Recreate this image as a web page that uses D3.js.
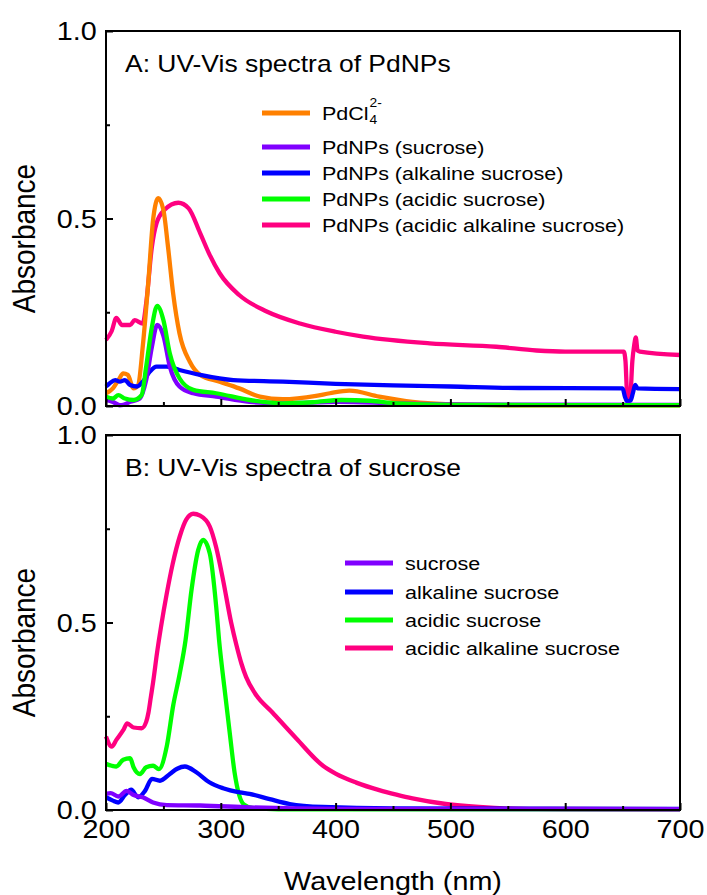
<!DOCTYPE html>
<meta charset="utf-8">
<style>
body { margin: 0; background: #fff; }
svg { display: block; font-family: "Liberation Sans", Arial, sans-serif; }
.axis text { font-family: "Liberation Sans", Arial, sans-serif; fill: #000; }
.axis line { stroke: #000; stroke-width: 2px; }
</style>
<body>
<script src="https://cdn.jsdelivr.net/npm/d3@7"></script>
<script>

// ---- panel A : PdNPs ----
const wlPdCl4 = [200,206,211,215,219,224,228,232,237,241,245.5,250,254,258.5,264,273,282,299,316,334,354,383,395,412,438,467,496,550,700];
const absPdCl4 = [0.034,0.047,0.07,0.087,0.083,0.047,0.056,0.158,0.336,0.496,0.554,0.523,0.425,0.30,0.194,0.118,0.083,0.065,0.047,0.025,0.018,0.027,0.034,0.041,0.025,0.011,0.005,0.002,0.002];

const wlPdSuc = [200,206,212,215,221,229.5,235,240,244.6,250,255.6,264,276,296,325,354,403,450,500,700];
const absPdSuc = [0.016,0.011,0.002,0.003,0.011,0.02,0.069,0.158,0.216,0.187,0.105,0.052,0.034,0.025,0.011,0.007,0.011,0.007,0.004,0.003];

const wlPdAlk = [200,203,208,212,216.5,221,227,232,238,244,253,264,282,311,354,400,450,500,560,650,652,654,657,659,661,663,700];
const absPdAlk = [0.052,0.06,0.069,0.065,0.069,0.056,0.052,0.065,0.091,0.105,0.105,0.096,0.083,0.069,0.065,0.059,0.055,0.052,0.048,0.047,0.025,0.012,0.015,0.035,0.056,0.047,0.045];

const wlPdAcid = [200,206,210.7,216.5,224,231,235,240,244.6,250,255.6,264,276,296,325,354,380,405,430,453,500,700];
const absPdAcid = [0.025,0.02,0.029,0.02,0.016,0.029,0.105,0.211,0.267,0.229,0.14,0.074,0.043,0.034,0.016,0.007,0.01,0.016,0.014,0.007,0.003,0.002];

const wlPdAcidAlk = [200,205,209,214,221,225,232,235,240,244,251,263,272,282,290,299,316,340,369,400,424,482,540,575,600,651,652.5,654,656.5,658.5,660,661.5,663,665,700];
const absPdAcidAlk = [0.176,0.2,0.235,0.216,0.216,0.229,0.22,0.274,0.425,0.487,0.523,0.542,0.527,0.461,0.405,0.354,0.296,0.252,0.22,0.198,0.185,0.167,0.158,0.148,0.145,0.145,0.12,0.03,0.02,0.12,0.16,0.183,0.148,0.145,0.136];

// ---- panel B : sucrose ----
const wlSuc = [200,204,210.7,218,224,232,241,253,282,325,400,700];
const absSuc = [0.043,0.045,0.036,0.051,0.04,0.034,0.02,0.013,0.012,0.007,0.003,0.002];

const wlAlkSuc = [200,206,210.7,216.5,222,228,234,240,247,255.6,262,268.7,279,290,302,316.5,325,342.6,360,389,450,700];
const absAlkSuc = [0.034,0.025,0.02,0.04,0.054,0.034,0.051,0.083,0.078,0.096,0.11,0.116,0.10,0.074,0.058,0.047,0.043,0.029,0.016,0.008,0.004,0.003];

const wlAcidSuc = [200,205,209,215,221,224,229.6,235,241,246,253,258.5,264,269.3,274.5,280.3,284.6,290.4,296,298.5,303,308,312,316,320,328,350,700];
const absAcidSuc = [0.123,0.118,0.116,0.134,0.138,0.114,0.096,0.114,0.118,0.109,0.171,0.278,0.36,0.453,0.587,0.693,0.72,0.684,0.542,0.453,0.33,0.2,0.1,0.04,0.015,0.005,0.002,0.002];

const wlAcidAlkSuc = [200,205,209,215,218.5,224,231,235,237,239,241,244.5,248,252.8,258,264.3,270,276,282,290.4,296,302,309,313.6,318,322,330,345,366,389,400,418,438,453,467,496,525,569,700];
const absAcidAlkSuc = [0.196,0.169,0.187,0.213,0.231,0.22,0.218,0.235,0.26,0.30,0.34,0.42,0.49,0.575,0.655,0.73,0.775,0.79,0.785,0.756,0.70,0.613,0.50,0.44,0.39,0.355,0.31,0.26,0.19,0.118,0.097,0.073,0.053,0.041,0.031,0.016,0.008,0.003,0.002];

// ticks
const xMajor = [200,300,400,500,600,700];
const xMinor = [250,350,450,550,650];
const yMajor = [0,0.5,1];
const yMinor = [0.25,0.75];

const seriesA = [
  {name:"PdCl4", wl:wlPdCl4, ab:absPdCl4, color:"#ff8000"},
  {name:"PdNPs (sucrose)", wl:wlPdSuc, ab:absPdSuc, color:"#8000ff"},
  {name:"PdNPs (alkaline sucrose)", wl:wlPdAlk, ab:absPdAlk, color:"#0000ff"},
  {name:"PdNPs (acidic sucrose)", wl:wlPdAcid, ab:absPdAcid, color:"#00ff00"},
  {name:"PdNPs (acidic alkaline sucrose)", wl:wlPdAcidAlk, ab:absPdAcidAlk, color:"#ff0080"}
];
const seriesB = [
  {name:"sucrose", wl:wlSuc, ab:absSuc, color:"#8000ff"},
  {name:"alkaline sucrose", wl:wlAlkSuc, ab:absAlkSuc, color:"#0000ff"},
  {name:"acidic sucrose", wl:wlAcidSuc, ab:absAcidSuc, color:"#00ff00"},
  {name:"acidic alkaline sucrose", wl:wlAcidAlkSuc, ab:absAcidAlkSuc, color:"#ff0080"}
];
// draw order (back to front)
const orderA = [4,0,2,1,3];
const orderB = [3,2,1,0];

var SX = 1.15;   // the figure is a bit wider than tall, stretch text the same way
var W = 707, H = 895;
var left = 106, right = 680;

var svg = d3.select("body").append("svg")
  .attr("width", W)
  .attr("height", H);

var x = d3.scaleLinear().domain([200,700]).range([left,right]);

function panel(top, bottom, series, order, title, legendX, legendYs, showX) {
  var y = d3.scaleLinear().domain([0,1]).range([bottom, top]);
  var g = svg.append("g");

  var line = d3.line()
    .x(function(d) { return x(d[0]); })
    .y(function(d) { return y(d[1]); })
    .curve(d3.curveMonotoneX);

  order.forEach(function(i) {
    var s = series[i];
    g.append("path")
      .datum(d3.zip(s.wl, s.ab))
      .attr("d", line)
      .attr("fill", "none")
      .attr("stroke", s.color)
      .attr("stroke-width", 4.3)
      .attr("stroke-linejoin", "round");
  });

  // frame
  g.append("rect")
    .attr("x", left).attr("y", top)
    .attr("width", right-left).attr("height", bottom-top)
    .attr("fill", "none").attr("stroke", "#000").attr("stroke-width", 2);

  // y axis
  var yAx = g.append("g").attr("class","axis")
    .attr("transform","translate(" + left + ",0)")
    .call(d3.axisLeft(y).tickValues(yMajor).tickFormat(d3.format(".1f"))
      .tickSizeInner(-7).tickSizeOuter(0).tickPadding(8));
  yAx.select(".domain").remove();
  yAx.selectAll("text").style("font-size","25px").attr("transform","scale(" + SX + ",1)").attr("dy","0.35em");

  var yAx2 = g.append("g").attr("class","axis")
    .attr("transform","translate(" + left + ",0)")
    .call(d3.axisLeft(y).tickValues(yMinor).tickFormat("").tickSizeInner(-4).tickSizeOuter(0));
  yAx2.select(".domain").remove();

  // x axis
  var xAx = g.append("g").attr("class","axis")
    .attr("transform","translate(0," + bottom + ")")
    .call(d3.axisBottom(x).tickValues(xMajor).tickFormat(showX ? d3.format("d") : "")
      .tickSizeInner(-7).tickSizeOuter(0).tickPadding(10));
  xAx.select(".domain").remove();
  xAx.selectAll("text").style("font-size","25px").attr("transform","scale(" + SX + ",1)");

  var xAx2 = g.append("g").attr("class","axis")
    .attr("transform","translate(0," + bottom + ")")
    .call(d3.axisBottom(x).tickValues(xMinor).tickFormat("").tickSizeInner(-4).tickSizeOuter(0));
  xAx2.select(".domain").remove();

  // title
  g.append("text")
    .attr("transform","translate(125," + (top + 41) + ") scale(" + SX + ",1)")
    .style("font-size","23px")
    .text(title);

  // axis label
  g.append("text")
    .attr("transform","translate(35," + ((top+bottom)/2 + 20) + ") scale(" + SX + ",1) rotate(-90)")
    .attr("text-anchor","middle")
    .style("font-size","28px")
    .text("Absorbance");

  // legend
  var leg = g.selectAll(".legend")
    .data(series)
    .enter().append("g")
    .attr("class","legend")
    .attr("transform", function(d,i) { return "translate(" + legendX + "," + legendYs[i] + ")"; });

  leg.append("line")
    .attr("x1", 0).attr("x2", 48)
    .attr("stroke", function(d) { return d.color; })
    .attr("stroke-width", 5);

  leg.append("text")
    .attr("transform","translate(60,0) scale(" + SX + ",1)")
    .attr("dy","0.36em")
    .style("font-size","18.7px")
    .text(function(d) { return d.name == "PdCl4" ? "PdCl" : d.name; })
    .each(function(d) {
      if (d.name != "PdCl4") return;
      var w = this.getComputedTextLength() * SX;
      var p = d3.select(this.parentNode);
      p.append("text")
        .attr("transform","translate(" + (60 + w + 1) + ",11) scale(" + SX + ",1)")
        .style("font-size","12px").text("4");
      p.append("text")
        .attr("transform","translate(" + (60 + w + 1) + ",-6) scale(" + SX + ",1)")
        .style("font-size","12px").text("2-");
    });

  return y;
}

panel(31, 406, seriesA, orderA, "A: UV-Vis spectra of PdNPs", 262, [113,147,173,199,225], false);
panel(435, 810, seriesB, orderB, "B: UV-Vis spectra of sucrose", 345, [563,592,620,648], true);

svg.append("text")
  .attr("transform","translate(" + ((left+right)/2) + ",890) scale(" + SX + ",1)")
  .attr("text-anchor","middle")
  .style("font-size","25px")
  .text("Wavelength (nm)");

</script>
</body>
